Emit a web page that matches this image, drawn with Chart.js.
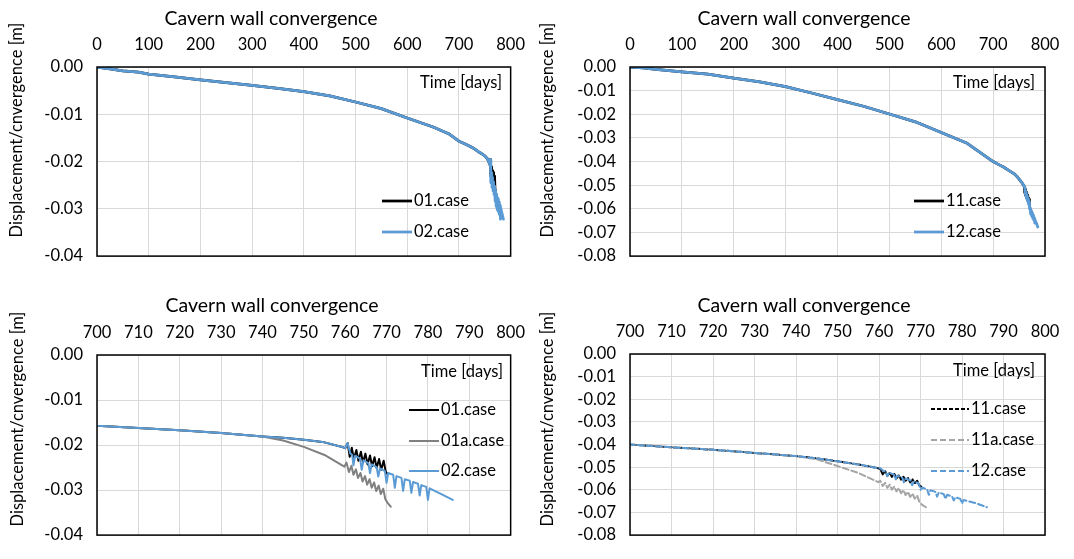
<!DOCTYPE html>
<html>
<head>
<meta charset="utf-8">
<script src="https://cdn.jsdelivr.net/npm/chart.js@4.4.1/dist/chart.umd.min.js"></script>
<style>
  body { margin: 0; background: #fff; }
  #wrap { position: relative; width: 1074px; height: 559px; }
  #wrap canvas { position: absolute; }
</style>
</head>
<body>
<div id="wrap">
  <canvas id="tl" width="537" height="280" style="left:0;top:0"></canvas>
  <canvas id="tr" width="537" height="280" style="left:537px;top:0"></canvas>
  <canvas id="bl" width="537" height="279" style="left:0;top:280px"></canvas>
  <canvas id="br" width="537" height="279" style="left:537px;top:280px"></canvas>
</div>
<script>
const FONT = "Lato, 'Open Sans', sans-serif";
const BLUE = '#5b9bd5';

// 01 / 01a / 02 runs share the same history up to 740 days
const base01Days = [0, 25, 50, 80, 100, 150, 200, 250, 300, 350, 400, 450, 500, 550, 600, 650, 680, 700, 710, 720, 730, 740];
const base01Disp = [0, -0.0004, -0.0008, -0.0011, -0.0015, -0.0021, -0.0027, -0.0033, -0.0039, -0.0045, -0.0052, -0.0061, -0.0074, -0.0088, -0.0108, -0.0127, -0.0141, -0.0157, -0.0162, -0.0167, -0.0173, -0.0181];

const tail01Days = [745, 750, 755, 759.5, 760, 760.6, 761.1, 761.6, 762.1, 762.7, 763.2, 763.8, 764.3, 764.9, 765.4, 766.0, 766.5, 767.1, 767.6, 768.2, 768.7, 769.3, 769.8, 770.2];
const tail01Disp = [-0.0184, -0.0188, -0.0194, -0.0205, -0.0207, -0.0196, -0.0226, -0.0206, -0.0231, -0.0211, -0.0235, -0.0215, -0.0239, -0.0219, -0.0243, -0.0223, -0.0247, -0.0227, -0.0251, -0.0231, -0.0255, -0.0235, -0.0259, -0.0264];

const tail01aDays = [745, 750, 755, 759.8, 760.3, 760.9, 761.5, 762.0, 762.6, 763.1, 763.7, 764.2, 764.8, 765.3, 765.9, 766.4, 767.0, 767.5, 768.1, 768.6, 769.2, 769.7, 770.2, 771.0];
const tail01aDisp = [-0.0190, -0.0204, -0.0222, -0.0248, -0.0239, -0.0260, -0.0246, -0.0266, -0.0254, -0.0273, -0.0262, -0.0281, -0.0269, -0.0288, -0.0276, -0.0295, -0.0283, -0.0302, -0.0290, -0.0309, -0.0297, -0.0320, -0.0328, -0.0337];

const tail02Days = [745, 750, 755, 759.5, 760, 760.6, 761.2, 761.7, 762.0, 762.4, 763.6, 764.0, 764.4, 765.6, 766.0, 766.4, 767.6, 768.0, 768.4, 769.6, 770.0, 770.4, 771.6, 772.0, 772.4, 773.6, 774.0, 774.4, 775.6, 776.0, 776.4, 777.6, 778.0, 778.4, 779.6, 780.0, 780.4, 783.0, 786.0];
const tail02Disp = [-0.0184, -0.0188, -0.0194, -0.0205, -0.0207, -0.0196, -0.0218, -0.0222, -0.0245, -0.0224, -0.0230, -0.0255, -0.0234, -0.0240, -0.0262, -0.0243, -0.0249, -0.0270, -0.0252, -0.0258, -0.0284, -0.0262, -0.0266, -0.0295, -0.0269, -0.0273, -0.0302, -0.0276, -0.0279, -0.0306, -0.0282, -0.0286, -0.0312, -0.0289, -0.0293, -0.0322, -0.0296, -0.0308, -0.0322];

// 11 / 11a / 12 runs
const base11Days = [0, 25, 50, 100, 150, 200, 250, 300, 350, 400, 450, 500, 550, 600, 650, 700, 710, 720, 730, 740];
const base11Disp = [0, -0.0004, -0.0010, -0.0021, -0.0030, -0.0047, -0.0063, -0.0083, -0.0110, -0.0138, -0.0166, -0.0199, -0.0232, -0.0277, -0.0323, -0.0400, -0.0412, -0.0423, -0.0437, -0.0451];

const tail11Days = [745, 750, 755, 759.5, 760.3, 760.9, 761.5, 762.0, 762.6, 763.1, 763.7, 764.2, 764.8, 765.3, 765.9, 766.4, 767.0, 767.5, 768.1, 768.6, 769.2, 769.7, 770.2];
const tail11Disp = [-0.0461, -0.0474, -0.0488, -0.0503, -0.0508, -0.0532, -0.0518, -0.0538, -0.0524, -0.0543, -0.0530, -0.0549, -0.0536, -0.0555, -0.0542, -0.0561, -0.0548, -0.0567, -0.0554, -0.0573, -0.0560, -0.0580, -0.0586];

const tail11aDays = [745, 750, 755, 759.8, 760.3, 760.9, 761.5, 762.0, 762.6, 763.1, 763.7, 764.2, 764.8, 765.3, 765.9, 766.4, 767.0, 767.5, 768.1, 768.6, 769.2, 769.7, 770.3, 771.3];
const tail11aDisp = [-0.0465, -0.0495, -0.0525, -0.0566, -0.0560, -0.0583, -0.0569, -0.0591, -0.0577, -0.0599, -0.0585, -0.0607, -0.0593, -0.0615, -0.0601, -0.0623, -0.0609, -0.0631, -0.0617, -0.0639, -0.0625, -0.0652, -0.0665, -0.0677];

const tail12Days = [745, 750, 755, 759.5, 760.3, 761.0, 761.6, 762.0, 762.4, 763.6, 764.0, 764.4, 765.6, 766.0, 766.4, 767.6, 768.0, 768.4, 769.6, 770.0, 770.4, 771.6, 772.0, 772.4, 773.6, 774.0, 774.4, 775.6, 776.0, 776.4, 777.6, 778.0, 778.4, 779.6, 780.0, 780.4, 783.5, 786.0];
const tail12Disp = [-0.0461, -0.0474, -0.0488, -0.0503, -0.0505, -0.0515, -0.0520, -0.0540, -0.0524, -0.0533, -0.0555, -0.0537, -0.0546, -0.0567, -0.0550, -0.0559, -0.0580, -0.0563, -0.0572, -0.0600, -0.0590, -0.0598, -0.0622, -0.0602, -0.0609, -0.0630, -0.0612, -0.0619, -0.0640, -0.0622, -0.0629, -0.0647, -0.0633, -0.0640, -0.0660, -0.0645, -0.0660, -0.0677];

const chartTitle = 'Cavern wall convergence';
const yTitle = 'Displacement/cnvergence [m]';
const timeTitle = 'Time [days]';

function toPoints(days, disp) {
  return days.map((d, i) => ({ x: d, y: disp[i] }));
}
function joined(baseDays, baseDisp, tailDays, tailDisp) {
  return toPoints(baseDays.concat(tailDays), baseDisp.concat(tailDisp));
}

const case01 = joined(base01Days, base01Disp, tail01Days, tail01Disp);
const case01a = joined(base01Days, base01Disp, tail01aDays, tail01aDisp);
const case02 = joined(base01Days, base01Disp, tail02Days, tail02Disp);
const case11 = joined(base11Days, base11Disp, tail11Days, tail11Disp);
const case11a = joined(base11Days, base11Disp, tail11aDays, tail11aDisp);
const case12 = joined(base11Days, base11Disp, tail12Days, tail12Disp);

// frame, titles, "Time [days]" tag and the in-plot legend
const panelDecor = {
  id: 'panelDecor',
  afterDatasetsDraw(chart, args, o) {
    const ctx = chart.ctx;
    const a = chart.chartArea;
    ctx.save();
    ctx.strokeStyle = '#000';
    ctx.lineWidth = 1.5;
    ctx.strokeRect(a.left, a.top, a.right - a.left, a.bottom - a.top);

    ctx.fillStyle = '#000';
    ctx.textBaseline = 'middle';
    ctx.font = `${o.titleSize}px ${FONT}`;
    ctx.textAlign = 'center';
    ctx.fillText(chartTitle, o.titleX, o.titleY);

    ctx.font = `${o.textSize}px ${FONT}`;
    ctx.save();
    ctx.translate(o.yTitleX, o.yTitleY);
    ctx.rotate(-Math.PI / 2);
    ctx.fillText(yTitle, 0, 0);
    ctx.restore();

    ctx.textAlign = 'right';
    ctx.fillText(timeTitle, o.timeRight, o.timeY);

    ctx.textAlign = 'left';
    chart.data.datasets.forEach((ds, i) => {
      const y = o.legendRows[i];
      ctx.save();
      ctx.strokeStyle = ds.borderColor;
      ctx.lineWidth = ds.borderWidth;
      ctx.setLineDash(ds.borderDash || []);
      ctx.beginPath();
      ctx.moveTo(o.legendX, y);
      ctx.lineTo(o.legendX + o.legendLen, y);
      ctx.stroke();
      ctx.restore();
      ctx.fillText(ds.label, o.legendX + o.legendLen + 2, y);
    });
    ctx.restore();
  }
};

function makeChart(id, cfg) {
  const a = cfg.area;
  const el = document.getElementById(id);
  const tickFont = { family: FONT, size: cfg.deco.tickSize };
  return new Chart(el, {
    type: 'line',
    data: { datasets: cfg.datasets },
    options: {
      responsive: false,
      animation: false,
      events: [],
      layout: { padding: { left: 0, top: 0, right: el.width - a.right, bottom: el.height - a.bottom } },
      elements: { point: { radius: 0 }, line: { tension: 0, borderCapStyle: 'round', borderJoinStyle: 'round' } },
      plugins: { legend: { display: false }, tooltip: { enabled: false }, panelDecor: cfg.deco },
      scales: {
        x: {
          type: 'linear', position: 'top',
          min: cfg.xMin, max: cfg.xMax,
          ticks: { stepSize: cfg.xStep, color: '#000', font: tickFont, padding: 12, maxRotation: 0, autoSkip: false },
          grid: { color: '#d9d9d9', lineWidth: 1, drawTicks: false },
          border: { display: false },
          afterFit: s => { s.height = a.top; }
        },
        y: {
          min: cfg.yMin, max: 0,
          ticks: { stepSize: 0.01, color: '#000', font: tickFont, padding: 14, autoSkip: false, callback: v => v.toFixed(2) },
          grid: { color: '#d9d9d9', lineWidth: 1, drawTicks: false },
          border: { display: false },
          afterFit: s => { s.width = a.left; }
        }
      }
    },
    plugins: [panelDecor]
  });
}

function line(label, data, color, width, order, dash) {
  return { label, data, borderColor: color, backgroundColor: color, borderWidth: width, borderDash: dash, order, fill: false };
}

const textSizes = { titleSize: 19.5, tickSize: 16.5, textSize: 16.5 };

makeChart('tl', {
  area: { left: 97, top: 67, right: 514, bottom: 260 },
  xMin: 0, xMax: 800, xStep: 100, yMin: -0.04,
  datasets: [
    line('01.case', case01, '#000000', 2.75, 2),
    line('02.case', case02, BLUE, 2.75, 1)
  ],
  deco: { ...textSizes, titleX: 271, titleY: 19, yTitleX: 17, yTitleY: 130,
          timeRight: 502, timeY: 83, legendX: 382, legendLen: 30, legendRows: [201, 232] }
});

makeChart('tr', {
  area: { left: 93, top: 67, right: 508, bottom: 260 },
  xMin: 0, xMax: 800, xStep: 100, yMin: -0.08,
  datasets: [
    line('11.case', case11, '#000000', 2.75, 2),
    line('12.case', case12, BLUE, 2.75, 1)
  ],
  deco: { ...textSizes, titleX: 267, titleY: 19, yTitleX: 11, yTitleY: 130,
          timeRight: 498, timeY: 83, legendX: 377, legendLen: 30, legendRows: [201, 232] }
});

makeChart('bl', {
  area: { left: 97, top: 75, right: 514, bottom: 267 },
  xMin: 700, xMax: 800, xStep: 10, yMin: -0.04,
  datasets: [
    line('01.case', case01, '#000000', 2, 3),
    line('01a.case', case01a, '#808080', 2, 2),
    line('02.case', case02, BLUE, 2, 1)
  ],
  deco: { ...textSizes, titleX: 272, titleY: 26, yTitleX: 18, yTitleY: 139,
          timeRight: 503, timeY: 92, legendX: 409, legendLen: 30, legendRows: [130, 161, 191] }
});

makeChart('br', {
  area: { left: 93, top: 74, right: 508, bottom: 267 },
  xMin: 700, xMax: 800, xStep: 10, yMin: -0.08,
  datasets: [
    line('11.case', case11, '#000000', 2, 3, [4, 2]),
    line('11a.case', case11a, '#a5a5a5', 2, 2, [6, 3]),
    line('12.case', case12, BLUE, 2, 1, [6, 3])
  ],
  deco: { ...textSizes, titleX: 267, titleY: 26, yTitleX: 11, yTitleY: 139,
          timeRight: 498, timeY: 91, legendX: 394, legendLen: 38, legendRows: [129, 160, 191] }
});
</script>
</body>
</html>
